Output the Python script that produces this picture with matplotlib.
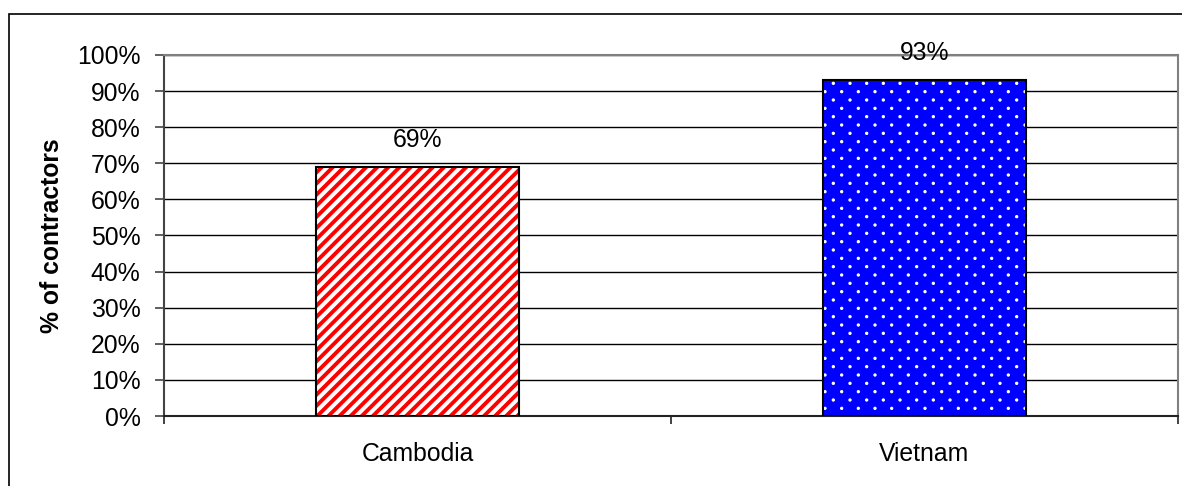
import numpy as np
import matplotlib
matplotlib.use("Agg")
import matplotlib.pyplot as plt
import matplotlib.hatch as mhatch
from matplotlib.path import Path
from matplotlib.patches import Rectangle
from matplotlib.ticker import FixedLocator, FuncFormatter

plt.rcParams['font.family'] = ['Liberation Sans', 'DejaVu Sans']

categories = ["Cambodia", "Vietnam"]
values = [69, 93]
y_ticks = list(range(0, 101, 10))
face_colors = ["white", "#0000FF"]
hatch_colors = ["#FF0000", "white"]
hatches = ["///", "."]
hatch_lws = [2.8, 0.8]


# Excel-like "small dots" fill: offset lattice, rows twice as dense as columns
class DiamondDots(mhatch.HatchPatternBase):
    def __init__(self, hatch, density):
        self.ncols = hatch.count('.') * density
        self.nrows = 2 * self.ncols
        circ = Path.unit_circle()
        self.shape_vertices = circ.vertices
        self.shape_codes = circ.codes
        if self.ncols == 0:
            self.num_vertices = 0
        else:
            n_even = self.nrows // 2 + 1
            n_odd = self.nrows // 2
            self.num_shapes = n_even * (self.ncols + 1) + n_odd * self.ncols
            self.num_vertices = self.num_shapes * len(self.shape_vertices)

    def set_vertices_and_codes(self, vertices, codes):
        step = 1.0 / self.ncols
        sv = self.shape_vertices * 0.011
        vparts, cparts = [], []
        for row in range(self.nrows + 1):
            if row % 2 == 0:
                cols = np.linspace(0, 1, self.ncols + 1)
            else:
                cols = np.linspace(step / 2, 1 - step / 2, self.ncols)
            rp = row / self.nrows
            for cp in cols:
                vparts.append(sv + [cp, rp])
                cparts.append(self.shape_codes)
        np.concatenate(vparts, out=vertices)
        np.concatenate(cparts, out=codes)


mhatch._hatch_types = [t for t in mhatch._hatch_types
                       if t is not mhatch.SmallFilledCircles] + [DiamondDots]

FS = 17.8

fig = plt.figure(figsize=(11.82, 4.86), dpi=100)
ax = fig.add_axes([164/1182, 1 - 416/486, (1178 - 164)/1182, (416 - 55)/486])

x = list(range(len(categories)))
for i in x:
    b = ax.bar(x[i], values[i], width=0.4, color=face_colors[i], edgecolor=hatch_colors[i],
               linewidth=0, hatch=hatches[i], zorder=3)
    for p in b:
        if hasattr(p, "set_hatch_linewidth"):
            p.set_hatch_linewidth(hatch_lws[i])
    ax.bar(x[i], values[i], width=0.4, fill=False, edgecolor="black", linewidth=1.5, zorder=4)
    ax.annotate(f"{values[i]}%", (x[i], values[i]), xytext=(0, 19.5), textcoords="offset points",
                ha="center", va="center", fontsize=FS, color="black")

ax.set_xlim(-0.5, len(categories) - 0.5)
ax.set_ylim(0, 100)
ax.set_yticks(y_ticks)
ax.yaxis.set_major_formatter(FuncFormatter(lambda v, p: f"{int(v)}%"))
ax.grid(axis="y", color="black", linewidth=1, zorder=0)
ax.set_axisbelow(True)

ax.xaxis.set_major_locator(FixedLocator([i - 0.5 for i in range(len(categories) + 1)]))
ax.xaxis.set_major_formatter(FuncFormatter(lambda v, p: ""))
ax.xaxis.set_minor_locator(FixedLocator(x))
ax.set_xticklabels(categories, minor=True)
ax.tick_params(axis="x", which="major", length=6, width=1.2, color="#222222", direction="out")
ax.tick_params(axis="x", which="minor", length=0, pad=19, labelsize=FS)
ax.tick_params(axis="y", length=6.5, width=1.2, color="#444444", pad=10.5, labelsize=FS)

for s in ["top", "right"]:
    ax.spines[s].set_color("#808080")
    ax.spines[s].set_linewidth(1.5)
ax.spines["left"].set_color("#444444")
ax.spines["left"].set_linewidth(1.5)
ax.spines["bottom"].set_color("#222222")
ax.spines["bottom"].set_linewidth(1.5)

ax.set_ylabel("% of contractors", fontsize=FS, fontweight="bold")
ax.yaxis.set_label_coords(-(164 - 64)/1014, 0.5)

# outer chart-area border (extends beyond the right and bottom edges)
fig.patches.append(Rectangle((9/1182, -0.1), 1.2, 1 - 14/486 + 0.1, transform=fig.transFigure,
                             fill=False, edgecolor="black", linewidth=1.2))

fig.savefig("out.png", dpi=100)
